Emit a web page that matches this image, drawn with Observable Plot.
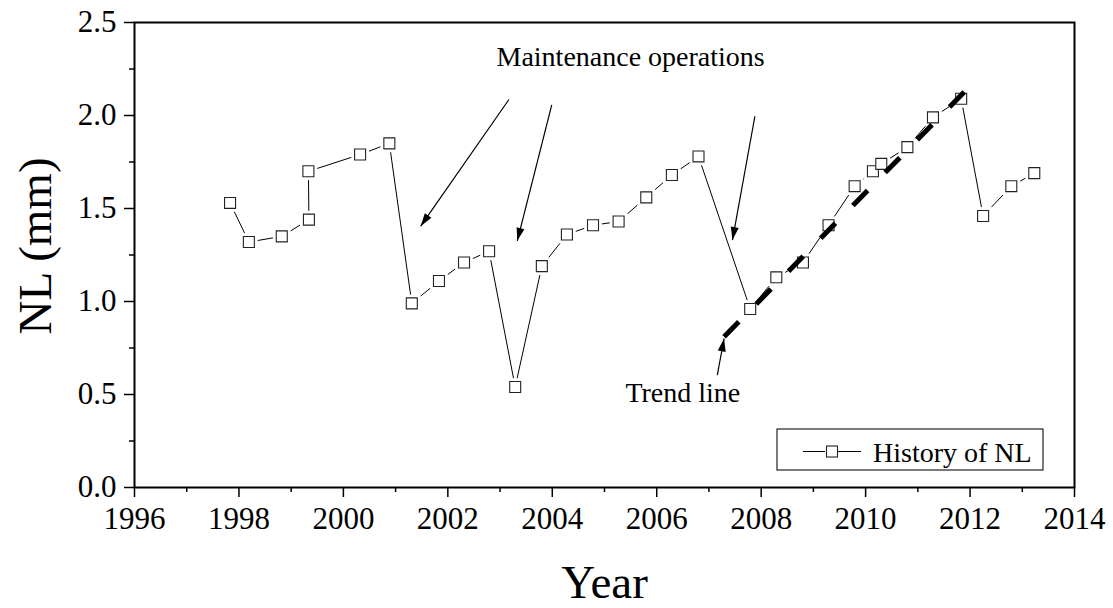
<!DOCTYPE html>
<html><head><meta charset="utf-8">
<script src="https://cdn.jsdelivr.net/npm/d3@7"></script>
<script src="https://cdn.jsdelivr.net/npm/@observablehq/plot@0.6"></script>
<style>
body{margin:0;background:#fff}
#chart{position:relative;width:1113px;height:608px}
</style>
</head><body><div id="chart"></div>
<script>
// ---- Data ----
const years = [1997.83, 1998.19, 1998.82, 1999.34, 1999.33, 2000.32, 2000.88,
  2001.31, 2001.83, 2002.31, 2002.79, 2003.29, 2003.80, 2004.28, 2004.78, 2005.27,
  2005.80, 2006.29, 2006.80, 2007.79, 2008.29, 2008.80, 2009.29, 2009.79, 2010.14,
  2010.30, 2010.80, 2011.29, 2011.83, 2012.25, 2012.79, 2013.23];
const nlValues = [1.53, 1.32, 1.35, 1.44, 1.70, 1.79, 1.85,
  0.99, 1.11, 1.21, 1.27, 0.54, 1.19, 1.36, 1.41, 1.43,
  1.56, 1.68, 1.78, 0.96, 1.13, 1.21, 1.41, 1.62, 1.70,
  1.74, 1.83, 1.99, 2.09, 1.46, 1.62, 1.69];
const trendYears = [2007.29, 2011.89];
const trendValues = [0.81, 2.127];
// annotation arrows (start -> tip), data coordinates
const arrowX1 = [2003.17, 2003.99, 2007.88, 2007.16];
const arrowY1 = [2.086, 2.057, 1.996, 0.604];
const arrowX2 = [2001.48, 2003.33, 2007.45, 2007.29];
const arrowY2 = [1.405, 1.326, 1.330, 0.801];
const noteLabels = ["Maintenance operations", "Trend line"];
const noteX = [2005.50, 2006.50];
const noteY = [2.265, 0.460];
const xMajorTicks = [1996, 1998, 2000, 2002, 2004, 2006, 2008, 2010, 2012, 2014];
const xMinorTicks = [1997, 1999, 2001, 2003, 2005, 2007, 2009, 2011, 2013];
const yMajorTicks = [0, 0.5, 1.0, 1.5, 2.0, 2.5];
const yMinorTicks = [0.25, 0.75, 1.25, 1.75, 2.25];
const xTitle = "Year";
const yTitle = "NL (mm)";
const legendLabel = "History of NL";

// ---- Layout ----
const W = 1113, H = 608, mL = 134, mR = 39, mT = 22, mB = 121;
const xDomain = [1996, 2014], yDomain = [0, 2.5];
const FONT = "'Liberation Serif', 'Times New Roman', Times, serif";

const series = years.map((x, i) => ({x, y: nlValues[i]}));
const trend = trendYears.map((x, i) => ({x, y: trendValues[i]}));
const arrows = arrowX1.map((x1, i) => ({x1, y1: arrowY1[i], x2: arrowX2[i], y2: arrowY2[i]}));
const notes = noteLabels.map((t, i) => ({t, x: noteX[i], y: noteY[i]}));

// pixel scales only used to orient the arrow heads
const sx = d3.scaleLinear(xDomain, [mL, W - mR]);
const sy = d3.scaleLinear(yDomain, [H - mB, mT]);
const headAngle = d => Math.atan2(sx(d.x2) - sx(d.x1), -(sy(d.y2) - sy(d.y1))) * 180 / Math.PI;
const headSymbol = {draw(ctx) { ctx.moveTo(0, 0); ctx.lineTo(-4, 13); ctx.lineTo(4, 13); ctx.closePath(); }};

const fmt = d3.format(".1f");

const plot = Plot.plot({
  width: W, height: H,
  marginLeft: mL, marginRight: mR, marginTop: mT, marginBottom: mB,
  style: {fontFamily: FONT, background: "white", color: "black"},
  x: {domain: xDomain},
  y: {domain: yDomain},
  marks: [
    Plot.axisY({ticks: yMinorTicks, tickSize: 5, tickFormat: () => "", label: null, strokeWidth: 1.5}),
    Plot.axisY({ticks: yMajorTicks, tickSize: 10, tickPadding: 8, tickFormat: fmt, label: null, fontSize: 31, strokeWidth: 1.5}),
    Plot.axisX({ticks: xMinorTicks, tickSize: 5, tickFormat: () => "", label: null, strokeWidth: 1.5}),
    Plot.axisX({ticks: xMajorTicks, tickSize: 10, tickPadding: 9, tickFormat: d => String(d), label: null, fontSize: 31, strokeWidth: 1.5}),
    Plot.link(arrows, {x1: "x1", y1: "y1", x2: "x2", y2: "y2", stroke: "black", strokeWidth: 1.2}),
    Plot.dot(arrows, {x: "x2", y: "y2", symbol: headSymbol, rotate: headAngle, fill: "black", stroke: null, r: 5}),
    Plot.line(series, {x: "x", y: "y", stroke: "black", strokeWidth: 1}),
    Plot.dot(series, {x: "x", y: "y", symbol: "square", r: 10, fill: "white", stroke: null}),
    Plot.dot(series, {x: "x", y: "y", symbol: "square", r: 6.2, fill: "white", stroke: "#222", strokeWidth: 1.1}),
    Plot.line(trend, {x: "x", y: "y", stroke: "black", strokeWidth: 5, strokeDasharray: "21,25", strokeLinecap: "butt"}),
    Plot.text(notes, {x: "x", y: "y", text: "t", fontSize: 28, lineAnchor: "bottom", textAnchor: "middle", fill: "black"}),
    Plot.text([xTitle], {frameAnchor: "bottom", dy: 110, lineAnchor: "bottom", textAnchor: "middle", fontSize: 47, fill: "black"}),
    Plot.text([yTitle], {frameAnchor: "left", rotate: -90, dx: -84, dy: -9, lineAnchor: "bottom", textAnchor: "middle", fontSize: 47, fill: "black"}),
    Plot.frame({stroke: "black", strokeWidth: 2})
  ]
});

// legend box inside the plot area (lower right)
const svg = d3.select(plot);
const lg = svg.append("g").attr("font-family", FONT);
lg.append("rect").attr("x", 777).attr("y", 429).attr("width", 266).attr("height", 41)
  .attr("fill", "white").attr("stroke", "#222").attr("stroke-width", 1.2);
lg.append("line").attr("x1", 803).attr("x2", 825).attr("y1", 451.5).attr("y2", 451.5).attr("stroke", "black");
lg.append("line").attr("x1", 838).attr("x2", 861).attr("y1", 451.5).attr("y2", 451.5).attr("stroke", "black");
lg.append("rect").attr("x", 826.5).attr("y", 446).attr("width", 11).attr("height", 11)
  .attr("fill", "white").attr("stroke", "#222").attr("stroke-width", 1.1);
lg.append("text").attr("x", 873).attr("y", 462).attr("font-size", 28)
  .attr("text-anchor", "start").attr("fill", "black").text(legendLabel);

document.getElementById("chart").appendChild(plot);
</script>
</body></html>
